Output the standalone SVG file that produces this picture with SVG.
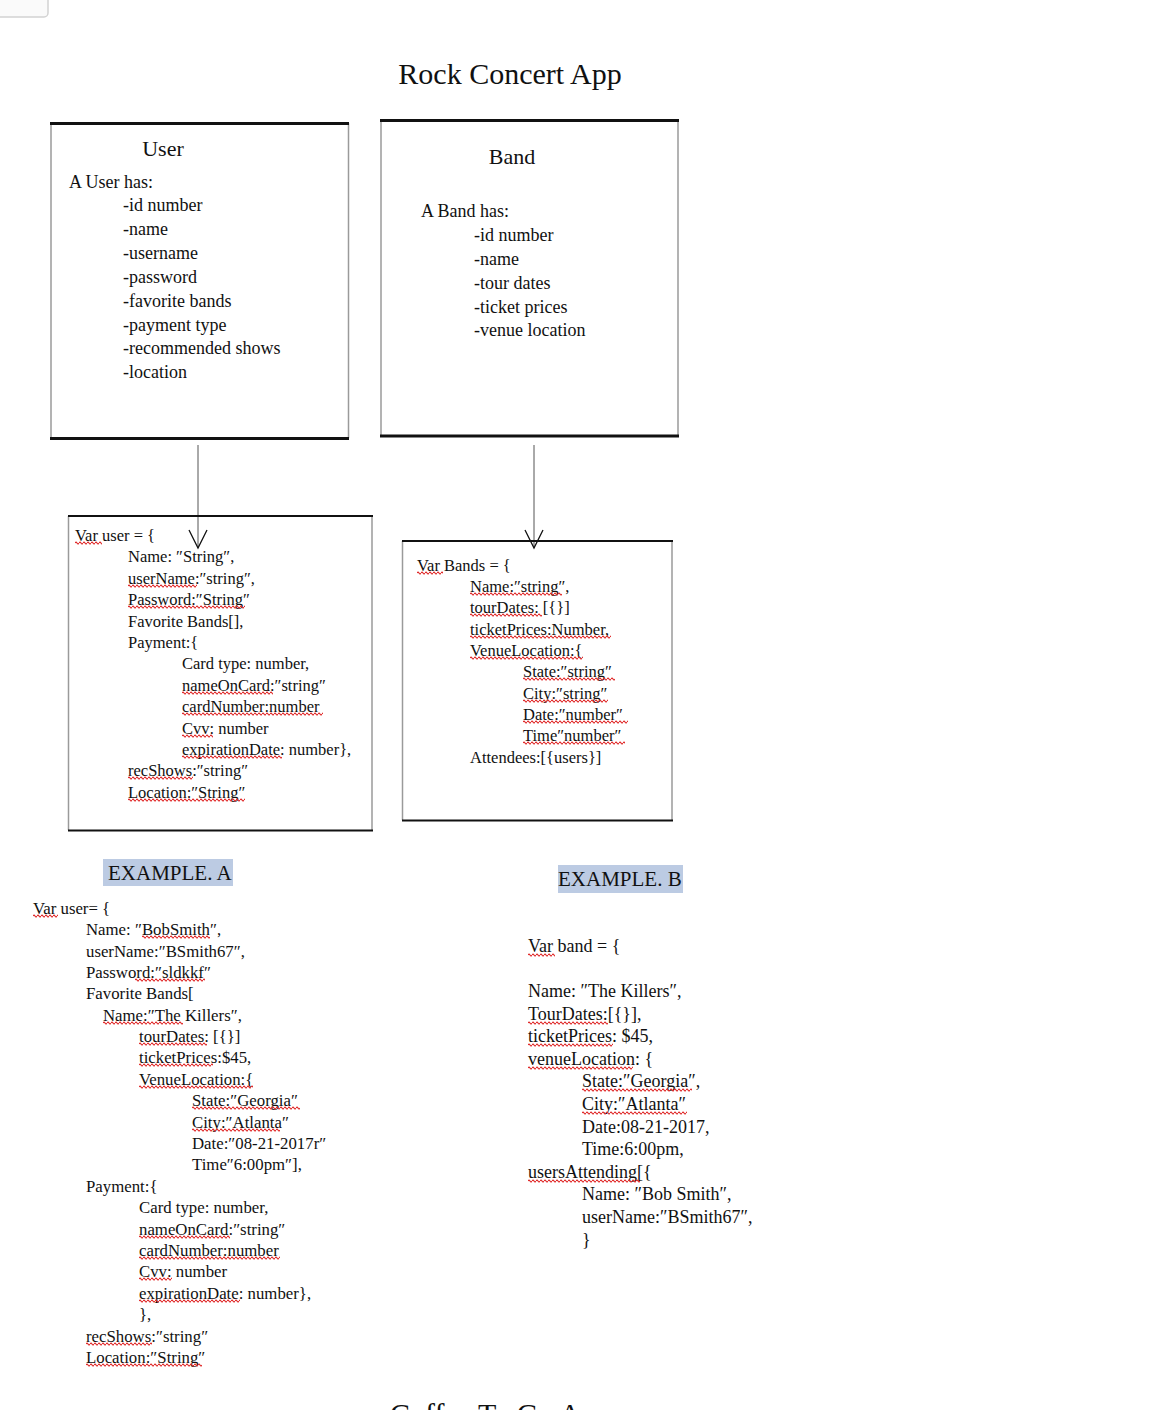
<svg xmlns="http://www.w3.org/2000/svg" width="1154" height="1410" viewBox="0 0 1154 1410">
<style>
.t{font-family:"Liberation Serif","Times New Roman",serif;fill:#111}
.h1{font-size:30px}
.h2{font-size:22px}
.b18{font-size:18px}
.c{font-size:16.5px}
.ca{font-size:16.8px}
.cb{font-size:18px}
.ex{font-size:21px}
.edge{stroke:#111;stroke-width:3}
.edge2{stroke:#111;stroke-width:2}
.side{stroke:#9a9a9a;stroke-width:1.5}
.sq{fill:url(#wv)}
.conn{stroke:#555;stroke-width:1;fill:none}
.head{stroke:#111;stroke-width:1.3;fill:none}
.hl{fill:#bccbe3}
</style>
<defs>
<pattern id="wv" width="4" height="4" patternUnits="userSpaceOnUse">
<path d="M0 2 Q1 0.2 2 2 T4 2" fill="none" stroke="#e02828" stroke-width="1.1"/>
</pattern>
</defs>
<rect width="1154" height="1410" fill="#fff"/>
<rect x="-10" y="-10" width="58" height="27" rx="4" fill="#fafafa" stroke="#d2d2d2" stroke-width="1.5"/>

<text class="t h1" x="510" y="84" text-anchor="middle">Rock Concert App</text>

<g id="user">
<line class="side" x1="51" y1="123" x2="51" y2="438"/>
<line class="side" x1="348.5" y1="123" x2="348.5" y2="438"/>
<line class="edge" x1="50" y1="123.5" x2="349" y2="123.5"/>
<line class="edge" x1="50" y1="438.5" x2="349" y2="438.5"/>
<text class="t h2" x="163" y="156" text-anchor="middle">User</text>
<text class="t b18" x="69" y="188">A User  has:</text>
<text class="t b18" x="123" y="211">-id number</text>
<text class="t b18" x="123" y="235">-name</text>
<text class="t b18" x="123" y="259">-username</text>
<text class="t b18" x="123" y="283">-password</text>
<text class="t b18" x="123" y="307">-favorite  bands</text>
<text class="t b18" x="123" y="331">-payment type</text>
<text class="t b18" x="123" y="354">-recommended  shows</text>
<text class="t b18" x="123" y="378">-location</text>
</g>

<g id="band">
<line class="side" x1="381" y1="120" x2="381" y2="436"/>
<line class="side" x1="678" y1="120" x2="678" y2="436"/>
<line class="edge" x1="380" y1="120.5" x2="679" y2="120.5"/>
<line class="edge" x1="380" y1="436" x2="679" y2="436"/>
<text class="t h2" x="512" y="164" text-anchor="middle">Band</text>
<text class="t b18" x="421" y="217">A Band  has:</text>
<text class="t b18" x="474" y="241">-id number</text>
<text class="t b18" x="474" y="265">-name</text>
<text class="t b18" x="474" y="289">-tour  dates</text>
<text class="t b18" x="474" y="313">-ticket prices</text>
<text class="t b18" x="474" y="336">-venue location</text>
</g>

<g id="connectors">
<line class="conn" x1="198" y1="445" x2="198" y2="548"/>
<polyline class="head" points="189,530 198,548 207,530"/>
<line class="conn" x1="534" y1="445" x2="534" y2="548"/>
<polyline class="head" points="525,530 534,548 543,530"/>
</g>

<g id="varuser">
<line class="side" x1="68.5" y1="516" x2="68.5" y2="830"/>
<line class="side" x1="372" y1="516" x2="372" y2="830"/>
<line class="edge2" x1="68" y1="516" x2="373" y2="516"/>
<line class="edge2" x1="68" y1="830.5" x2="373" y2="830.5"/>
<text class="t c" x="75" y="541">Var user = {</text>
<text class="t c" x="128" y="562">Name:  ″String″,</text>
<text class="t c" x="128" y="584">userName:″string″,</text>
<text class="t c" x="128" y="605">Password:″String″</text>
<text class="t c" x="128" y="627">Favorite Bands[],</text>
<text class="t c" x="128" y="648">Payment:{</text>
<text class="t c" x="182" y="669">Card type: number,</text>
<text class="t c" x="182" y="691">nameOnCard:″string″</text>
<text class="t c" x="182" y="712">cardNumber:number</text>
<text class="t c" x="182" y="734">Cvv: number</text>
<text class="t c" x="182" y="755">expirationDate: number},</text>
<text class="t c" x="128" y="776">recShows:″string″</text>
<text class="t c" x="128" y="798">Location:″String″</text>
<rect class="sq" transform="translate(75,541)" width="27" height="4"/>
<rect class="sq" transform="translate(128,584)" width="69" height="4"/>
<rect class="sq" transform="translate(128,605)" width="117" height="4"/>
<rect class="sq" transform="translate(182,691)" width="91" height="4"/>
<rect class="sq" transform="translate(182,712)" width="141" height="4"/>
<rect class="sq" transform="translate(182,734)" width="31" height="4"/>
<rect class="sq" transform="translate(182,755)" width="100" height="4"/>
<rect class="sq" transform="translate(128,776)" width="65" height="4"/>
<rect class="sq" transform="translate(128,798)" width="117" height="4"/>
</g>

<g id="varbands">
<line class="side" x1="402.5" y1="541" x2="402.5" y2="820"/>
<line class="side" x1="672" y1="541" x2="672" y2="820"/>
<line class="edge2" x1="402" y1="541" x2="673" y2="541"/>
<line class="edge2" x1="402" y1="820.5" x2="673" y2="820.5"/>
<text class="t c" x="417" y="571">Var Bands = {</text>
<text class="t c" x="470" y="592">Name:″string″,</text>
<text class="t c" x="470" y="613">tourDates:  [{}]</text>
<text class="t c" x="470" y="635">ticketPrices:Number,</text>
<text class="t c" x="470" y="656">VenueLocation:{</text>
<text class="t c" x="523" y="677">State:″string″</text>
<text class="t c" x="523" y="699">City:″string″</text>
<text class="t c" x="523" y="720">Date:″number″</text>
<text class="t c" x="523" y="741">Time″number″</text>
<text class="t c" x="470" y="763">Attendees:[{users}]</text>
<rect class="sq" transform="translate(417,571)" width="26" height="4"/>
<rect class="sq" transform="translate(470,592)" width="92" height="4"/>
<rect class="sq" transform="translate(470,613)" width="72" height="4"/>
<rect class="sq" transform="translate(470,635)" width="141" height="4"/>
<rect class="sq" transform="translate(470,656)" width="113" height="4"/>
<rect class="sq" transform="translate(523,677)" width="92" height="4"/>
<rect class="sq" transform="translate(523,699)" width="85" height="4"/>
<rect class="sq" transform="translate(523,720)" width="105" height="4"/>
<rect class="sq" transform="translate(523,741)" width="102" height="4"/>
</g>

<g id="exampleA">
<rect class="hl" x="103" y="859" width="130" height="27"/>
<text class="t ex" x="108" y="880">EXAMPLE. A</text>
<text class="t ca" x="33" y="914">Var user= {</text>
<text class="t ca" x="86" y="935">Name:  ″BobSmith″,</text>
<text class="t ca" x="86" y="957">userName:″BSmith67″,</text>
<text class="t ca" x="86" y="978">Password:″sldkkf″</text>
<text class="t ca" x="86" y="999">Favorite Bands[</text>
<text class="t ca" x="103" y="1021">Name:″The Killers″,</text>
<text class="t ca" x="139" y="1042">tourDates:  [{}]</text>
<text class="t ca" x="139" y="1063">ticketPrices:$45,</text>
<text class="t ca" x="139" y="1085">VenueLocation:{</text>
<text class="t ca" x="192" y="1106">State:″Georgia″</text>
<text class="t ca" x="192" y="1128">City:″Atlanta″</text>
<text class="t ca" x="192" y="1149">Date:″08-21-2017r″</text>
<text class="t ca" x="192" y="1170">Time″6:00pm″],</text>
<text class="t ca" x="86" y="1192">Payment:{</text>
<text class="t ca" x="139" y="1213">Card type: number,</text>
<text class="t ca" x="139" y="1235">nameOnCard:″string″</text>
<text class="t ca" x="139" y="1256">cardNumber:number</text>
<text class="t ca" x="139" y="1277">Cvv: number</text>
<text class="t ca" x="139" y="1299">expirationDate: number},</text>
<text class="t ca" x="139" y="1320">},</text>
<text class="t ca" x="86" y="1342">recShows:″string″</text>
<text class="t ca" x="86" y="1363">Location:″String″</text>
<rect class="sq" transform="translate(33,914)" width="25" height="4"/>
<rect class="sq" transform="translate(142,935)" width="68" height="4"/>
<rect class="sq" transform="translate(135,978)" width="70" height="4"/>
<rect class="sq" transform="translate(103,1021)" width="80" height="4"/>
<rect class="sq" transform="translate(139,1042)" width="68" height="4"/>
<rect class="sq" transform="translate(139,1063)" width="74" height="4"/>
<rect class="sq" transform="translate(139,1085)" width="114" height="4"/>
<rect class="sq" transform="translate(192,1106)" width="108" height="4"/>
<rect class="sq" transform="translate(192,1128)" width="88" height="4"/>
<rect class="sq" transform="translate(139,1235)" width="91" height="4"/>
<rect class="sq" transform="translate(139,1256)" width="141" height="4"/>
<rect class="sq" transform="translate(139,1277)" width="33" height="4"/>
<rect class="sq" transform="translate(139,1299)" width="101" height="4"/>
<rect class="sq" transform="translate(86,1342)" width="66" height="4"/>
<rect class="sq" transform="translate(86,1363)" width="116" height="4"/>
</g>

<g id="exampleB">
<rect class="hl" x="558" y="865" width="125" height="28"/>
<text class="t ex" x="558" y="886">EXAMPLE. B</text>
<text class="t cb" x="528" y="952">Var band = {</text>
<text class="t cb" x="528" y="997">Name: ″The Killers″,</text>
<text class="t cb" x="528" y="1020">TourDates:[{}],</text>
<text class="t cb" x="528" y="1042">ticketPrices: $45,</text>
<text class="t cb" x="528" y="1065">venueLocation: {</text>
<text class="t cb" x="582" y="1087">State:″Georgia″,</text>
<text class="t cb" x="582" y="1110">City:″Atlanta″</text>
<text class="t cb" x="582" y="1133">Date:08-21-2017,</text>
<text class="t cb" x="582" y="1155">Time:6:00pm,</text>
<text class="t cb" x="528" y="1178">usersAttending[{</text>
<text class="t cb" x="582" y="1200">Name: ″Bob Smith″,</text>
<text class="t cb" x="582" y="1223">userName:″BSmith67″,</text>
<text class="t cb" x="582" y="1246">}</text>
<rect class="sq" transform="translate(528,953)" width="27" height="4"/>
<rect class="sq" transform="translate(528,1021)" width="80" height="4"/>
<rect class="sq" transform="translate(528,1043)" width="85" height="4"/>
<rect class="sq" transform="translate(528,1066)" width="105" height="4"/>
<rect class="sq" transform="translate(582,1088)" width="110" height="4"/>
<rect class="sq" transform="translate(582,1111)" width="105" height="4"/>
<rect class="sq" transform="translate(528,1179)" width="112" height="4"/>
</g>

<text class="t h1" x="390" y="1424">Coffee To Go App</text>
</svg>
